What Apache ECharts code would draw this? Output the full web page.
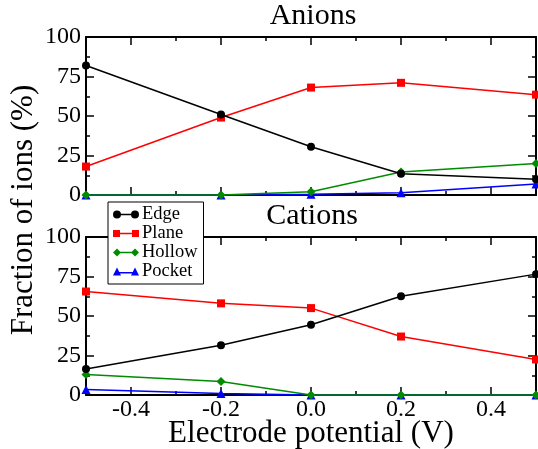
<!DOCTYPE html>
<html>
<head>
<meta charset="utf-8">
<script src="https://cdn.jsdelivr.net/npm/echarts@6/dist/echarts.min.js"></script>
<style>
  html, body { margin: 0; padding: 0; background: #fff; }
  #chart { width: 538px; height: 449px; }
</style>
</head>
<body>
<div id="chart"></div>
<script>
// electrode potential (V)
var potentials = [-0.5, -0.2, 0.0, 0.2, 0.5]
var seriesNames = ['Edge', 'Plane', 'Hollow', 'Pocket']

// fraction of ions (%) - anions
var anionEdge = [82, 51, 30.5, 13.5, 10]
var anionPlane = [18, 49, 68, 71, 63.5]
var anionHollow = [0, 0, 2, 14.5, 20]
var anionPocket = [0, 0, 0.5, 1.5, 7]

// fraction of ions (%) - cations
var cationEdge = [16.5, 31.5, 44.5, 62.5, 76.5]
var cationPlane = [65.5, 58, 55, 37, 22.5]
var cationHollow = [13, 8.5, 0, 0, 0]
var cationPocket = [3.5, 1, 0, 0, 0]

var xMajorTicks = [-0.4, -0.2, 0.0, 0.2, 0.4]
var xMinorTicks = [-0.3, -0.1, 0.1, 0.3]

var colors = ['#000000', '#ff0000', '#008b00', '#0000ff']
var symbols = ['circle', 'rect', 'diamond', 'triangle']
var symbolSizes = [8, 8, 9, 9]
var font = '"Liberation Serif", "DejaVu Serif", serif'

// legend icons: a short line with a marker at both ends (26 x 8)
var legendIcons = [
  'path://M0,4 A4,4 0 1,1 8,4 A4,4 0 1,1 0,4 Z M6,3.3 L20,3.3 L20,4.7 L6,4.7 Z M18,4 A4,4 0 1,1 26,4 A4,4 0 1,1 18,4 Z',
  'path://M0,0.5 L7,0.5 L7,7.5 L0,7.5 Z M6,3.3 L20,3.3 L20,4.7 L6,4.7 Z M19,0.5 L26,0.5 L26,7.5 L19,7.5 Z',
  'path://M0,4 L4,0 L8,4 L4,8 Z M6,3.3 L20,3.3 L20,4.7 L6,4.7 Z M18,4 L22,0 L26,4 L22,8 Z',
  'path://M0,8 L4,0 L8,8 Z M6,4.6 L20,4.6 L20,6 L6,6 Z M18,8 L22,0 L26,8 Z'
]

function pairs(ys) {
  return potentials.map(function (x, i) { return [x, ys[i]] })
}

var chartDom = document.getElementById('chart')
var myChart = echarts.init(chartDom)

var grids = [
  { left: 86, right: 2, top: 37, height: 158, outerBoundsMode: 'none' },
  { left: 86, right: 2, top: 237, height: 158, outerBoundsMode: 'none' }
]

var tickLine = { color: '#000', width: 1.5 }
var frameLine = { show: true, onZero: false, lineStyle: { color: '#000', width: 2 } }

var xAxes = []
var yAxes = []
;[0, 1].forEach(function (g) {
  // bottom x axis with major ticks (labels only on the lower panel)
  xAxes.push({
    type: 'value', gridIndex: g, position: 'bottom', min: -0.5, max: 0.5,
    axisLine: frameLine,
    axisTick: { show: true, inside: true, length: 8, customValues: xMajorTicks, lineStyle: tickLine },
    axisLabel: {
      show: g === 1, customValues: xMajorTicks, margin: 3,
      color: '#000', fontSize: 24, fontFamily: font,
      formatter: function (v) { return v.toFixed(1) }
    },
    splitLine: { show: false },
    name: g === 1 ? 'Electrode potential (V)' : '',
    nameLocation: 'middle', nameGap: 23, nameMoveOverlap: false,
    nameTextStyle: { color: '#000', fontSize: 31, fontFamily: font }
  })
  // bottom minor ticks
  xAxes.push({
    type: 'value', gridIndex: g, position: 'bottom', min: -0.5, max: 0.5,
    axisLine: { show: false, onZero: false },
    axisTick: { show: true, inside: true, length: 4, customValues: xMinorTicks, lineStyle: tickLine },
    axisLabel: { show: false },
    splitLine: { show: false }
  })
  // top mirror axis
  xAxes.push({
    type: 'value', gridIndex: g, position: 'top', min: -0.5, max: 0.5,
    axisLine: frameLine,
    axisTick: { show: true, inside: true, length: 8, customValues: xMajorTicks, lineStyle: tickLine },
    axisLabel: { show: false },
    splitLine: { show: false }
  })
  xAxes.push({
    type: 'value', gridIndex: g, position: 'top', min: -0.5, max: 0.5,
    axisLine: { show: false, onZero: false },
    axisTick: { show: true, inside: true, length: 4, customValues: xMinorTicks, lineStyle: tickLine },
    axisLabel: { show: false },
    splitLine: { show: false }
  })

  // left y axis
  yAxes.push({
    type: 'value', gridIndex: g, position: 'left', min: 0, max: 100, interval: 25,
    axisLine: frameLine,
    axisTick: { show: true, inside: true, length: 8, lineStyle: tickLine },
    minorTick: { show: true, splitNumber: 2, length: 4, lineStyle: tickLine },
    axisLabel: { color: '#000', fontSize: 24, fontFamily: font, margin: 5 },
    splitLine: { show: false }
  })
  // right mirror axis
  yAxes.push({
    type: 'value', gridIndex: g, position: 'right', min: 0, max: 100, interval: 25,
    axisLine: frameLine,
    axisTick: { show: true, inside: true, length: 8, lineStyle: tickLine },
    minorTick: { show: true, splitNumber: 2, length: 4, lineStyle: tickLine },
    axisLabel: { show: false },
    splitLine: { show: false }
  })
})

var panelData = [
  [anionEdge, anionPlane, anionHollow, anionPocket],
  [cationEdge, cationPlane, cationHollow, cationPocket]
]

var series = []
panelData.forEach(function (panel, g) {
  panel.forEach(function (ys, k) {
    series.push({
      name: seriesNames[k],
      type: 'line',
      xAxisIndex: g * 4,
      yAxisIndex: g * 2,
      data: pairs(ys),
      symbol: symbols[k],
      symbolSize: symbolSizes[k],
      animation: false,
      silent: true,
      clip: false,
      z: 10 - k,
      lineStyle: { color: colors[k], width: 1.5 },
      itemStyle: { color: colors[k], borderWidth: 0 }
    })
  })
})

var option = {
  backgroundColor: '#fff',
  animation: false,
  title: [
    { text: 'Anions', left: 308, top: -4, textAlign: 'center',
      textStyle: { color: '#000', fontSize: 30, fontWeight: 'normal', fontFamily: font } },
    { text: 'Cations', left: 307, top: 196, textAlign: 'center',
      textStyle: { color: '#000', fontSize: 30, fontWeight: 'normal', fontFamily: font } }
  ],
  legend: {
    orient: 'vertical',
    left: 108,
    top: 202,
    z: 20,
    backgroundColor: '#fff',
    borderColor: '#000',
    borderWidth: 1,
    borderRadius: 0,
    padding: [3, 6, 3, 5],
    itemGap: 0,
    itemWidth: 26,
    itemHeight: 8,
    selectedMode: false,
    itemStyle: { borderWidth: 0 },
    textStyle: { color: '#000', fontSize: 18.5, fontFamily: font, lineHeight: 18, padding: [0, 0, 0, -2] },
    data: seriesNames.map(function (n, k) { return { name: n, icon: legendIcons[k] } })
  },
  graphic: [
    {
      type: 'text',
      x: 24,
      y: 210,
      rotation: Math.PI / 2,
      style: {
        text: 'Fraction of ions (%)',
        font: '31px ' + font,
        fill: '#000',
        align: 'center',
        verticalAlign: 'middle'
      }
    }
  ],
  grid: grids,
  xAxis: xAxes,
  yAxis: yAxes,
  series: series
}

option && myChart.setOption(option)
</script>
</body>
</html>
